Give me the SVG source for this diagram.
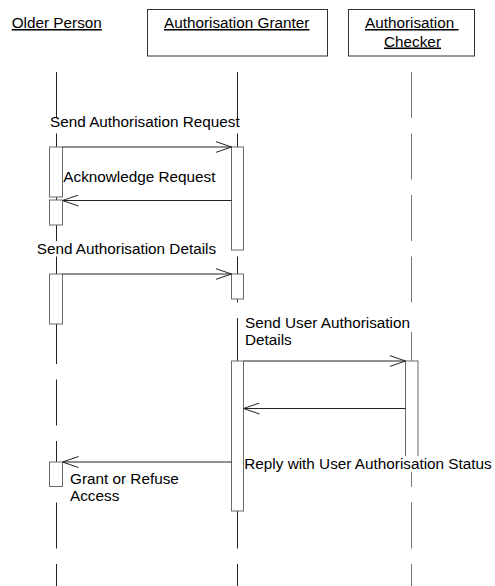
<svg xmlns="http://www.w3.org/2000/svg" width="495" height="586" viewBox="0 0 495 586">
<style>
text{font-family:"Liberation Sans",Arial,sans-serif;font-size:15.3px;fill:#000}
.u{text-decoration:underline}
.box{fill:#fff;stroke:#333;stroke-width:1}
.life{stroke:#222;stroke-width:1;stroke-dasharray:46 15.5;fill:none}
.act{fill:#fff;stroke:#6a6a6a;stroke-width:1}
.msg{stroke:#222;stroke-width:1;fill:none;marker-end:url(#arr)}
.bg{fill:#fff;stroke:none}
</style>
<defs>
<marker id="arr" viewBox="0 0 16 12" refX="16" refY="6" markerWidth="16" markerHeight="12" orient="auto" markerUnits="userSpaceOnUse">
<path d="M0,0.5 L16,6 L0,11.5" fill="none" stroke="#222" stroke-width="1"/>
</marker>
</defs>
<rect width="495" height="586" fill="#fff"/>
<g id="lifelines">
<line class="life" x1="56.5" y1="72" x2="56.5" y2="586"/>
<line class="life" x1="237.5" y1="72" x2="237.5" y2="586"/>
<line class="life" x1="411.5" y1="72" x2="411.5" y2="586" style="stroke:#777"/>
</g>
<g id="older-person">
<text class="u" x="11.7" y="28">Older Person</text>
</g>
<g id="authorisation-granter">
<rect class="box" x="147.5" y="9.5" width="180" height="46.5"/>
<text class="u" x="164" y="28">Authorisation Granter</text>
</g>
<g id="authorisation-checker">
<rect class="box" x="348.5" y="9.5" width="126" height="46.5"/>
<text class="u" x="365" y="28" xml:space="preserve">Authorisation </text>
<text class="u" x="412.5" y="46.5" text-anchor="middle">Checker</text>
</g>
<g id="activations">
<rect class="act" x="49.5" y="147" width="13" height="50"/>
<rect class="act" x="49.5" y="200" width="13" height="25"/>
<rect class="act" x="49.5" y="274" width="13" height="50"/>
<rect class="act" x="49.5" y="462" width="13" height="24.5"/>
<rect class="act" x="231.5" y="147" width="12" height="103"/>
<rect class="act" x="231.5" y="274" width="12" height="25"/>
<rect class="act" x="231.5" y="361" width="12" height="150"/>
<rect class="act" x="405.5" y="361" width="12.5" height="100"/>
</g>
<g id="connectors">
<line class="msg" x1="62.5" y1="147" x2="231.5" y2="147"/>
<line class="msg" x1="231.5" y1="200.5" x2="62.5" y2="200.5"/>
<line class="msg" x1="62.5" y1="274" x2="231.5" y2="274"/>
<line class="msg" x1="243.5" y1="361" x2="405.5" y2="361"/>
<line class="msg" x1="405.5" y1="408.5" x2="243.5" y2="408.5"/>
<line class="msg" x1="231.5" y1="462" x2="62.5" y2="462"/>
</g>
<g id="labels">
<text x="50" y="127.3">Send Authorisation Request</text>
<text x="63.3" y="181.7">Acknowledge Request</text>
<text x="36.7" y="254">Send Authorisation Details</text>
<rect class="bg" x="244" y="315" width="168" height="17"/>
<text x="245" y="328">Send User Authorisation</text>
<text x="245" y="345">Details</text>
<rect class="bg" x="244" y="456" width="251" height="16"/>
<text x="244.3" y="469">Reply with User Authorisation Status</text>
<text x="70" y="484">Grant or Refuse</text>
<text x="70" y="500.5">Access</text>
</g>
</svg>
